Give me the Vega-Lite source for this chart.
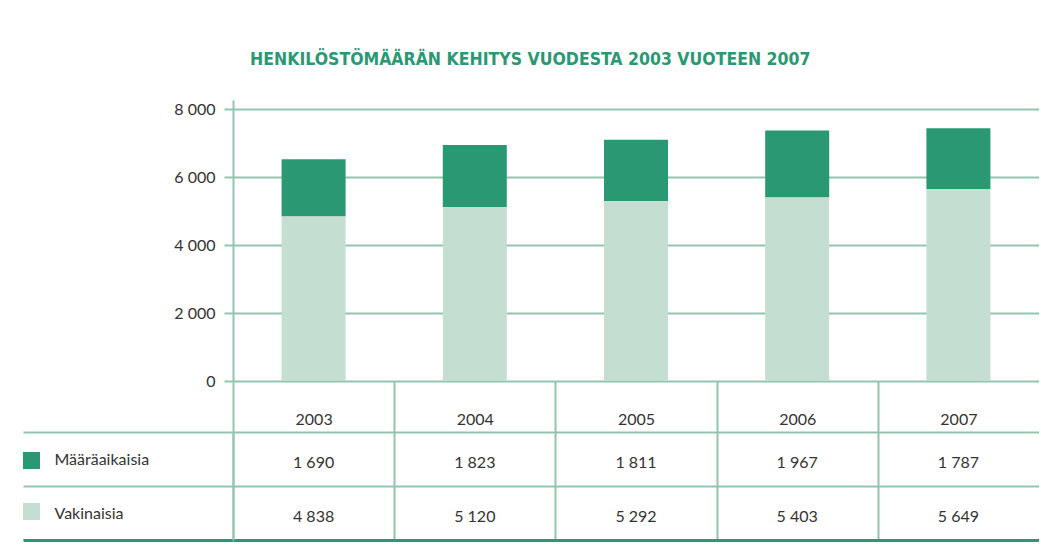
{
  "$schema": "https://vega.github.io/schema/vega-lite/v6.json",
  "background": "white",
  "padding": {"left": 21, "top": 50, "right": 0, "bottom": 4},
  "bounds": "flush",
  "spacing": 51,
  "config": {
    "locale": {"number": {"decimal": ",", "thousands": " ", "grouping": [3], "currency": ["", " €"]}},
    "view": {"stroke": null},
    "font": "Lato"
  },
  "title": {
    "text": "HENKILÖSTÖMÄÄRÄN KEHITYS VUODESTA 2003 VUOTEEN 2007",
    "font": "DejaVu Sans Condensed, Liberation Sans Narrow, Roboto Condensed, sans-serif",
    "fontSize": 17.5,
    "fontWeight": "bold",
    "color": "#2a9872",
    "anchor": "middle",
    "offset": 32
  },
  "data": {
    "values": [
      {"year": "2003", "series": "Määräaikaisia", "value": 1690},
      {"year": "2003", "series": "Vakinaisia", "value": 4838},
      {"year": "2004", "series": "Määräaikaisia", "value": 1823},
      {"year": "2004", "series": "Vakinaisia", "value": 5120},
      {"year": "2005", "series": "Määräaikaisia", "value": 1811},
      {"year": "2005", "series": "Vakinaisia", "value": 5292},
      {"year": "2006", "series": "Määräaikaisia", "value": 1967},
      {"year": "2006", "series": "Vakinaisia", "value": 5403},
      {"year": "2007", "series": "Määräaikaisia", "value": 1787},
      {"year": "2007", "series": "Vakinaisia", "value": 5649}
    ]
  },
  "vconcat": [
    {
      "width": 806,
      "height": 281,
      "mark": {"type": "bar"},
      "encoding": {
        "x": {"field": "year", "type": "nominal", "scale": {"paddingInner": 0.603, "paddingOuter": 0.3015}, "axis": null},
        "y": {
          "field": "value", "type": "quantitative", "stack": "zero",
          "scale": {"domain": [0, 8270], "nice": false},
          "axis": {
            "title": null, "values": [0, 2000, 4000, 6000, 8000], "format": ",d",
            "domainColor": "#93c4ad", "domainWidth": 2,
            "tickColor": "#93c4ad", "tickWidth": 2, "tickSize": 9,
            "gridColor": "#93c4ad", "gridWidth": 2, "gridOpacity": 1,
            "labelPadding": 9, "labelFontSize": 16, "labelColor": "#333333", "labelFont": "Lato"
          }
        },
        "color": {
          "field": "series", "type": "nominal",
          "scale": {"domain": ["Määräaikaisia", "Vakinaisia"], "range": ["#2a9872", "#c5ded2"]},
          "legend": {
            "orient": "none", "legendX": -210, "legendY": 352, "title": null,
            "symbolType": "square", "symbolSize": 289, "symbolStrokeWidth": 0,
            "rowPadding": 34, "labelExpr": "''", "padding": 0, "direction": "vertical"
          }
        },
        "order": {"field": "series", "sort": "descending"}
      }
    },
    {
      "width": 806,
      "height": 108,
      "resolve": {"axis": {"x": "independent"}},
      "layer": [
        {
          "mark": {"type": "text", "fontSize": 16, "font": "Lato", "color": "#333333", "dy": 4},
          "encoding": {
            "x": {
              "field": "year", "type": "nominal", "scale": {"paddingInner": 0, "paddingOuter": 0},
              "axis": {
                "orient": "top", "title": null, "domain": false,
                "tickBand": "extent", "tickSize": 51, "tickColor": "#93c4ad", "tickWidth": 2,
                "tickOpacity": {"condition": {"test": "datum.index == 1", "value": 0}, "value": 1},
                "grid": true, "gridColor": "#93c4ad", "gridWidth": 2,
                "gridOpacity": {"condition": {"test": "datum.index == 1", "value": 0}, "value": 1},
                "labelAngle": 0, "labelPadding": -46, "labelFontSize": 16, "labelColor": "#333333", "labelFont": "Lato"
              }
            },
            "y": {
              "field": "series", "type": "nominal",
              "scale": {"domain": ["Määräaikaisia", "Vakinaisia"], "paddingInner": 0, "paddingOuter": 0},
              "axis": {
                "title": null, "domainColor": "#93c4ad", "domainWidth": 2,
                "tickBand": "extent", "tickSize": 210,
                "tickWidth": {"condition": {"test": "datum.index == 1", "value": 3}, "value": 2},
                "tickColor": {"condition": {"test": "datum.index == 1", "value": "#2a9872"}, "value": "#93c4ad"},
                "grid": true, "gridColor": "#93c4ad", "gridWidth": 2, "gridOpacity": 1,
                "labelAlign": "left", "labelPadding": -31, "labelFontSize": 16, "labelColor": "#333333", "labelFont": "Lato"
              }
            },
            "text": {"field": "value", "type": "quantitative", "format": ",d"}
          }
        },
        {
          "mark": {"type": "text", "opacity": 0},
          "encoding": {
            "x": {
              "field": "year", "type": "nominal",
              "axis": {"orient": "bottom", "title": null, "domain": true, "domainColor": "#2a9872", "domainWidth": 3, "ticks": false, "labels": false, "grid": false}
            },
            "y": {"field": "series", "type": "nominal"},
            "text": {"field": "value", "type": "quantitative"}
          }
        }
      ]
    }
  ]
}
